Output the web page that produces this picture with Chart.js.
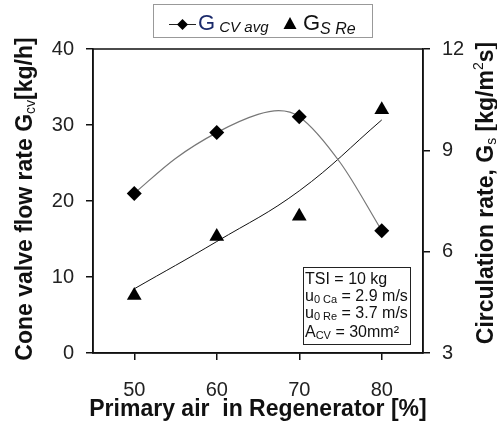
<!DOCTYPE html>
<html>
<head>
<meta charset="utf-8">
<script src="https://cdn.jsdelivr.net/npm/chart.js@4"></script>
<style>
  html, body { margin: 0; padding: 0; background: #fff; }
</style>
</head>
<body>
<canvas id="myChart" width="497" height="432"></canvas>
<script>
// values
const primaryAir = [50, 60, 70, 80];
const gCvAvg = [21, 29, 31.1, 16.1];
const gSRe = [4.7, 6.45, 7.05, 10.2];
// smooth line through the G_cv points
const cvCurveX = [50, 55, 60, 65, 67.5, 70, 75, 80];
const cvCurveY = [21, 25.6, 29, 31.4, 31.9, 31.1, 25, 16.1];
// trend line through the G_s points
const reTrendX = [50, 60, 70, 80];
const reTrendY = [4.9, 6.3, 7.8, 9.9];

const xTicks = [50, 60, 70, 80];
const leftTicks = [0, 10, 20, 30, 40];
const rightTicks = [3, 6, 9, 12];

const FONT = '"Liberation Sans", Arial, sans-serif';

function pairs(xs, ys) {
  return xs.map((x, i) => ({ x: x, y: ys[i] }));
}

// draws text made of pieces (for sub and superscripts), returns width
function richText(ctx, x, y, parts, measureOnly) {
  let cx = x;
  parts.forEach(p => {
    ctx.font = (p.italic ? 'italic ' : '') + (p.bold ? 'bold ' : '') + p.size + 'px ' + FONT;
    if (!measureOnly) {
      ctx.fillStyle = p.color || '#111';
      ctx.fillText(p.t, cx, y + (p.dy || 0));
    }
    cx += ctx.measureText(p.t).width;
  });
  return cx - x;
}

function centredRich(ctx, cx, cy, rot, parts) {
  ctx.save();
  ctx.translate(cx, cy);
  ctx.rotate(rot);
  ctx.textBaseline = 'middle';
  ctx.textAlign = 'left';
  const w = richText(ctx, 0, 0, parts, true);
  richText(ctx, -w / 2, 0, parts, false);
  ctx.restore();
}

const extras = {
  id: 'extras',
  afterDraw(chart) {
    const ctx = chart.ctx;
    const a = chart.chartArea;

    // frame round the plot
    ctx.save();
    ctx.strokeStyle = '#111';
    ctx.lineWidth = 1.5;
    ctx.strokeRect(a.left, a.top, a.right - a.left, a.bottom - a.top);

    // legend box
    ctx.strokeStyle = '#999';
    ctx.lineWidth = 1;
    ctx.strokeRect(153.5, 4.5, 219, 33);
    ctx.strokeStyle = '#222';
    ctx.beginPath();
    ctx.moveTo(169, 24.5);
    ctx.lineTo(196, 24.5);
    ctx.stroke();
    ctx.fillStyle = '#000';
    ctx.beginPath();
    ctx.moveTo(182.5, 19); ctx.lineTo(188, 24.5); ctx.lineTo(182.5, 30); ctx.lineTo(177, 24.5);
    ctx.closePath();
    ctx.fill();
    ctx.beginPath();
    ctx.moveTo(290, 17); ctx.lineTo(296.5, 29); ctx.lineTo(283.5, 29);
    ctx.closePath();
    ctx.fill();
    ctx.textBaseline = 'alphabetic';
    ctx.textAlign = 'left';
    richText(ctx, 198, 30, [
      { t: 'G', size: 22, color: '#1b2a6b' },
      { t: ' CV avg', size: 15, italic: true, dy: 2 }
    ]);
    richText(ctx, 303, 30, [
      { t: 'G', size: 22 },
      { t: 'S Re', size: 16, italic: true, dy: 4 }
    ]);

    // conditions box
    ctx.fillStyle = '#fff';
    ctx.fillRect(303, 267, 107, 77);
    ctx.strokeStyle = '#222';
    ctx.strokeRect(303.5, 267.5, 107, 77);
    richText(ctx, 305, 284, [{ t: 'TSI = 10 kg', size: 16 }]);
    richText(ctx, 305, 301, [
      { t: 'u', size: 16 }, { t: '0 Ca', size: 11, dy: 2 }, { t: ' = 2.9 m/s', size: 16 }
    ]);
    richText(ctx, 305, 318, [
      { t: 'u', size: 16 }, { t: '0 Re', size: 11, dy: 2 }, { t: ' = 3.7 m/s', size: 16 }
    ]);
    richText(ctx, 305, 337, [
      { t: 'A', size: 16 }, { t: 'CV', size: 11, dy: 2 }, { t: ' = 30mm\u00b2', size: 16 }
    ]);

    // axis titles
    centredRich(ctx, 26, 199, -Math.PI / 2, [
      { t: 'Cone valve flow rate G', size: 23, bold: true },
      { t: 'cv', size: 14, dy: 5 },
      { t: '[kg/h]', size: 23, bold: true }
    ]);
    centredRich(ctx, 487, 193, -Math.PI / 2, [
      { t: 'Circulation rate, G', size: 23, bold: true },
      { t: 's', size: 14, dy: 5 },
      { t: ' [kg/m', size: 23, bold: true },
      { t: '2', size: 14, dy: -8 },
      { t: 's]', size: 23, bold: true }
    ]);
    centredRich(ctx, 258, 410, 0, [
      { t: 'Primary air  in Regenerator [%]', size: 23, bold: true }
    ]);
    ctx.restore();
  }
};

function fixedTicks(list) {
  return scale => { scale.ticks = list.map(v => ({ value: v })); };
}

const axisGrid = { drawOnChartArea: false, tickLength: 7, color: '#111', lineWidth: 1.5 };
const axisBorder = { color: '#111', width: 1.5 };
const tickFont = { size: 20, family: FONT };

new Chart(document.getElementById('myChart'), {
  type: 'scatter',
  data: {
    datasets: [
      {
        label: 'G CV avg',
        data: pairs(primaryAir, gCvAvg),
        yAxisID: 'y',
        showLine: false,
        pointStyle: 'rectRot',
        pointRadius: 7.5,
        backgroundColor: '#000',
        borderColor: '#000',
        borderWidth: 0
      },
      {
        label: 'G S Re',
        data: pairs(primaryAir, gSRe),
        yAxisID: 'y2',
        showLine: false,
        pointStyle: 'triangle',
        pointRadius: 8.5,
        backgroundColor: '#000',
        borderColor: '#000',
        borderWidth: 0
      },
      {
        label: 'cv curve',
        data: pairs(cvCurveX, cvCurveY),
        yAxisID: 'y',
        showLine: true,
        pointRadius: 0,
        borderColor: '#777',
        borderWidth: 1.2,
        cubicInterpolationMode: 'monotone'
      },
      {
        label: 're trend',
        data: pairs(reTrendX, reTrendY),
        yAxisID: 'y2',
        showLine: true,
        pointRadius: 0,
        borderColor: '#111',
        borderWidth: 1,
        tension: 0.4
      }
    ]
  },
  options: {
    responsive: false,
    animation: false,
    layout: { padding: { top: 49, left: 0, right: 0, bottom: 0 } },
    plugins: {
      legend: { display: false },
      tooltip: { enabled: false }
    },
    scales: {
      x: {
        type: 'linear',
        position: 'bottom',
        min: 45,
        max: 85,
        afterBuildTicks: fixedTicks(xTicks),
        afterFit: s => { s.height = 79; },
        grid: axisGrid,
        border: axisBorder,
        ticks: { font: tickFont, color: '#222', padding: 18, maxRotation: 0 }
      },
      y: {
        position: 'left',
        min: 0,
        max: 40,
        afterBuildTicks: fixedTicks(leftTicks),
        afterFit: s => { s.width = 93; },
        grid: axisGrid,
        border: axisBorder,
        ticks: { font: tickFont, color: '#222', padding: 12 }
      },
      y2: {
        position: 'right',
        min: 3,
        max: 12,
        afterBuildTicks: fixedTicks(rightTicks),
        afterFit: s => { s.width = 74; },
        grid: axisGrid,
        border: axisBorder,
        ticks: { font: tickFont, color: '#222', padding: 12 }
      }
    }
  },
  plugins: [extras]
});
</script>
</body>
</html>
